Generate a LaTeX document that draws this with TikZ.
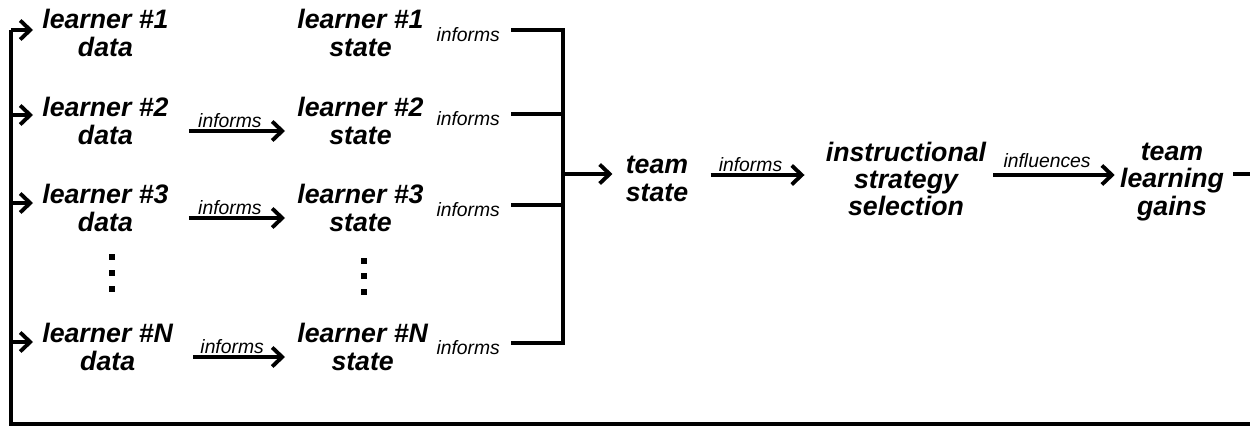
\documentclass[tikz,border=0pt]{standalone}
\usepackage{fontspec}
\setmainfont{Liberation Sans}
\usetikzlibrary{arrows.meta}

\begin{document}
\begin{tikzpicture}[x=0.02cm,y=-0.02cm]
    % Define colours
    \definecolor{lineColour}{HTML}{000000}

    % Styles for the text blocks and the arrows
    \tikzset{
        stepText/.style={font=\fontsize{15.2}{15.5}\selectfont\bfseries\itshape, align=center, inner sep=0pt},
        linkText/.style={font=\fontsize{11}{12}\selectfont\itshape, inner sep=1pt},
        linkLine/.style={draw=lineColour, line width=2.2pt},
        linkArrow/.style={linkLine, -{Straight Barb[length=2mm,width=3.8mm]}}
    }

    % Fix the frame of the picture
    \clip (0,0) rectangle (1250,426);

    % Learner data nodes
    \node[stepText, anchor=west] (data1) at (42,33) {learner \#1\\data};
    \node[stepText, anchor=west] (data2) at (42,121) {learner \#2\\data};
    \node[stepText, anchor=west] (data3) at (42,208) {learner \#3\\data};
    \node[stepText, anchor=west] (dataN) at (42,347) {learner \#N\\data};

    % Learner state nodes
    \node[stepText, anchor=west] (state1) at (297,33) {learner \#1\\state};
    \node[stepText, anchor=west] (state2) at (297,121) {learner \#2\\state};
    \node[stepText, anchor=west] (state3) at (297,208) {learner \#3\\state};
    \node[stepText, anchor=west] (stateN) at (297,347) {learner \#N\\state};

    % Team and instruction nodes
    \node[stepText] (team) at (657,179) {team\\state};
    \node[stepText] (strategy) at (906,179) {instructional\\strategy\\selection};
    \node[stepText] (gains) at (1172,182) {team\\learning\\gains};

    % Vertical dots for the skipped learners
    \foreach \y in {257,273,289}
        \fill[lineColour] (112,\y) +(-3,-3) rectangle +(3,3);
    \foreach \y in {261,276,292}
        \fill[lineColour] (364,\y) +(-3,-3) rectangle +(3,3);

    % Data informs state
    \foreach \i in {2,3,N}
        \draw[linkArrow] ([shift={(20,10)}]data\i.east) -- node[linkText, above, xshift=-4pt] {informs} ([shift={(-12,10)}]state\i.west);

    % Every state informs the team state
    \coordinate (junction) at (563,174);
    \coordinate (brk1) at (511,30);
    \coordinate (brk2) at (511,114);
    \coordinate (brk3) at (511,205);
    \coordinate (brkN) at (511,343);
    \foreach \i in {1,2,3,N}
        \node[linkText, anchor=east] at ([shift={(-9,5)}]brk\i) {informs};
    \draw[linkLine] (brk1) -- (brk1 -| junction) -- (brkN -| junction) -- (brkN);
    \draw[linkLine] (brk2) -- (brk2 -| junction);
    \draw[linkLine] (brk3) -- (brk3 -| junction);
    \draw[linkArrow, shorten >=0.26cm] (junction) -- (junction -| team.west);

    % Team state to strategy to gains
    \draw[linkArrow] ([shift={(22,-4)}]team.east) -- node[linkText, above, xshift=-4pt] {informs} ([shift={(-21,-4)}]strategy.west);
    \draw[linkArrow] ([shift={(7,-4)}]strategy.east) -- node[linkText, above, xshift=-4pt, yshift=2pt] {influences} ([shift={(-5,-7)}]gains.west);

    % Feedback loop back to the learner data
    \coordinate (loopTop) at (11,30);
    \coordinate (loopBottom) at (11,424);
    \coordinate (loopEnd) at (1262,424);
    \draw[linkLine] ([shift={(9,-8)}]gains.east) -| (loopEnd) -- (loopBottom) -- (loopTop);
    \coordinate (feed1) at (11,30);
    \coordinate (feed2) at (11,115);
    \coordinate (feed3) at (11,203);
    \coordinate (feedN) at (11,342);
    \foreach \i in {1,2,3,N}
        \draw[linkArrow, shorten >=0.18cm] (feed\i) -- (feed\i -| data\i.west);

\end{tikzpicture}
\end{document}
